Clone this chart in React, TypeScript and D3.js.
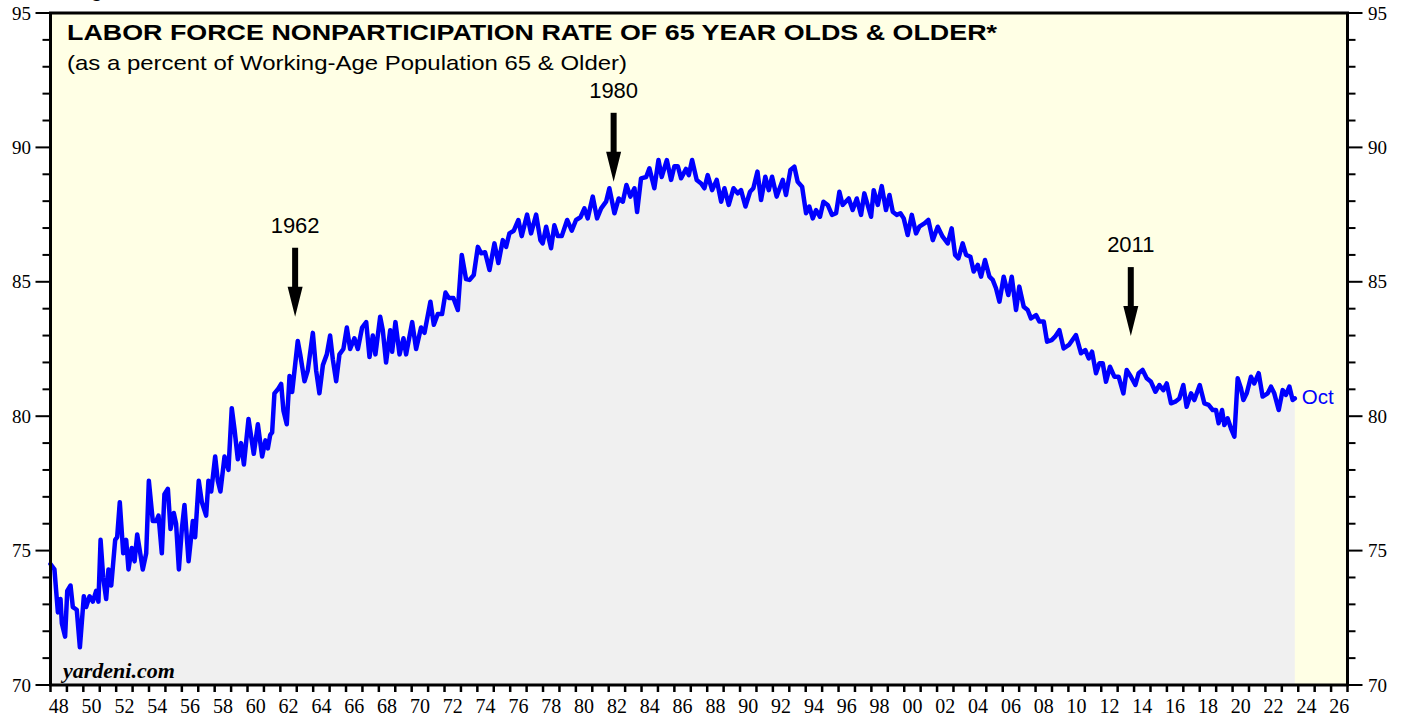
import React, { useEffect } from "react";
import * as d3 from "d3";

// readings: [decimal year, percent]
const rate1940s: [number, number][] = [
  [1948.0, 74.5], [1948.24, 74.3], [1948.45, 72.7], [1948.61, 73.2], [1948.69, 72.3], [1948.89, 71.8],
  [1949.02, 73.5], [1949.22, 73.7], [1949.36, 72.9], [1949.6, 72.8], [1949.79, 71.4],
];
const rate1950s: [number, number][] = [
  [1950.03, 73.3], [1950.17, 72.9], [1950.38, 73.3], [1950.58, 73.1], [1950.78, 73.5], [1950.92, 73.1],
  [1951.05, 75.4], [1951.21, 74.0], [1951.39, 73.2], [1951.53, 74.3], [1951.7, 73.7], [1951.94, 75.4],
  [1952.06, 75.5], [1952.22, 76.8], [1952.43, 74.9], [1952.61, 75.4], [1952.75, 74.3], [1952.95, 75.1],
  [1953.12, 74.6], [1953.28, 75.6], [1953.44, 75.0], [1953.62, 74.3], [1953.83, 74.9], [1953.99, 77.6],
  [1954.23, 76.1], [1954.44, 76.1], [1954.58, 76.3], [1954.78, 74.9], [1954.94, 77.1],
  [1955.15, 77.3], [1955.31, 75.8], [1955.51, 76.4], [1955.65, 76.0], [1955.82, 74.3],
  [1956.0, 75.8], [1956.16, 76.7], [1956.41, 74.6], [1956.67, 76.1], [1956.81, 75.5],
  [1957.03, 77.6], [1957.22, 76.8], [1957.48, 76.3], [1957.62, 77.6], [1957.79, 77.2],
  [1958.03, 78.5], [1958.19, 77.6], [1958.35, 77.2], [1958.6, 78.5], [1958.84, 78.0],
  [1959.04, 80.3], [1959.21, 79.5], [1959.41, 78.4], [1959.61, 79.0], [1959.78, 78.2],
];
const rate1960s: [number, number][] = [
  [1960.06, 79.9], [1960.38, 78.6], [1960.63, 79.7], [1960.89, 78.5],
  [1961.09, 79.1], [1961.24, 78.8], [1961.38, 79.3], [1961.5, 79.4], [1961.64, 80.85], [1961.85, 81.0],
  [1962.05, 81.2], [1962.19, 80.2], [1962.39, 79.7], [1962.56, 81.5], [1962.72, 80.9],
  [1963.06, 82.8], [1963.21, 82.3], [1963.47, 81.3], [1963.67, 81.7], [1963.98, 83.1],
  [1964.18, 81.7], [1964.38, 80.85], [1964.59, 81.9], [1964.83, 82.3],
  [1965.03, 83.0], [1965.2, 82.1], [1965.4, 81.3], [1965.6, 82.3], [1965.84, 82.5],
  [1966.05, 83.3], [1966.25, 82.5], [1966.51, 82.9], [1966.72, 82.5], [1966.98, 83.3],
  [1967.23, 83.5], [1967.43, 82.2], [1967.63, 83.0], [1967.79, 82.3],
  [1968.08, 83.7], [1968.24, 83.2], [1968.44, 82.0], [1968.69, 83.2], [1968.81, 82.4],
  [1969.01, 83.5], [1969.26, 82.3], [1969.5, 82.9], [1969.66, 82.3],
];
const rate1970s: [number, number][] = [
  [1970.03, 83.5], [1970.27, 82.5], [1970.57, 83.3], [1970.78, 83.1],
  [1971.14, 84.26], [1971.35, 83.4], [1971.59, 83.8], [1971.85, 83.8],
  [1972.06, 84.6], [1972.26, 84.4], [1972.54, 84.4], [1972.81, 83.95],
  [1973.05, 86.0], [1973.31, 85.1], [1973.52, 85.07], [1973.78, 85.25],
  [1974.03, 86.3], [1974.23, 86.06], [1974.47, 86.1], [1974.74, 85.44],
  [1975.04, 86.43], [1975.28, 85.7], [1975.55, 86.55], [1975.75, 86.3], [1975.95, 86.8],
  [1976.22, 86.9], [1976.5, 87.3], [1976.7, 86.7],
  [1977.03, 87.5], [1977.27, 86.8], [1977.58, 87.5], [1977.84, 86.55], [1977.98, 86.43],
  [1978.19, 87.05], [1978.49, 86.25], [1978.69, 87.1], [1978.9, 86.7],
  [1979.14, 86.7], [1979.47, 87.3], [1979.75, 86.9],
];
const rate1980s: [number, number][] = [
  [1980.01, 87.3], [1980.28, 87.4], [1980.52, 87.73], [1980.72, 87.36],
  [1981.03, 88.17], [1981.29, 87.36], [1981.54, 87.73], [1981.84, 87.98],
  [1982.04, 88.48], [1982.35, 87.55], [1982.61, 88.1], [1982.86, 87.98],
  [1983.08, 88.6], [1983.32, 88.17], [1983.57, 88.48], [1983.73, 87.6], [1983.97, 88.85],
  [1984.28, 88.9], [1984.48, 89.22], [1984.78, 88.48],
  [1985.03, 89.53], [1985.23, 88.9], [1985.54, 89.53], [1985.8, 88.79],
  [1986.0, 89.3], [1986.21, 89.3], [1986.41, 88.85], [1986.71, 89.2], [1986.88, 88.97],
  [1987.08, 89.53], [1987.36, 88.79], [1987.63, 88.66], [1987.83, 88.48],
  [1988.03, 88.97], [1988.3, 88.41], [1988.58, 88.79], [1988.85, 87.98],
  [1989.05, 88.48], [1989.31, 87.86], [1989.6, 88.48], [1989.86, 88.29],
];
const rate1990s: [number, number][] = [
  [1990.06, 88.41], [1990.33, 87.8], [1990.61, 88.35], [1990.81, 88.48],
  [1991.06, 89.1], [1991.28, 88.04], [1991.54, 88.91], [1991.75, 88.41], [1991.95, 88.91],
  [1992.23, 88.17], [1992.6, 88.79], [1992.8, 88.23],
  [1993.07, 89.16], [1993.31, 89.28], [1993.51, 88.72], [1993.78, 88.54],
  [1994.02, 87.55], [1994.22, 87.8], [1994.43, 87.36], [1994.63, 87.67], [1994.87, 87.42],
  [1995.08, 87.98], [1995.34, 87.86], [1995.6, 87.49], [1995.85, 87.55],
  [1996.05, 88.35], [1996.25, 87.86], [1996.62, 88.1], [1996.86, 87.67],
  [1997.11, 88.1], [1997.37, 87.49], [1997.57, 88.29], [1997.98, 87.42],
  [1998.14, 88.41], [1998.39, 87.86], [1998.63, 88.56], [1998.89, 87.67],
  [1999.1, 88.23], [1999.3, 87.61], [1999.54, 87.49], [1999.77, 87.55], [1999.97, 87.36],
];
const rate2000s: [number, number][] = [
  [2000.21, 86.74], [2000.46, 87.49], [2000.72, 86.8], [2000.92, 87.05],
  [2001.23, 87.17], [2001.47, 87.3], [2001.74, 86.55],
  [2002.04, 87.05], [2002.34, 86.68], [2002.65, 86.43], [2002.89, 86.99],
  [2003.1, 86.0], [2003.3, 85.87], [2003.56, 86.43], [2003.77, 86.0],
  [2004.03, 85.93], [2004.23, 85.38], [2004.48, 85.63], [2004.68, 85.19], [2004.92, 85.81],
  [2005.19, 85.19], [2005.39, 85.07], [2005.59, 84.76], [2005.8, 84.26],
  [2006.06, 85.19], [2006.34, 84.51], [2006.55, 85.19], [2006.81, 83.95],
  [2007.01, 84.82], [2007.28, 84.07], [2007.52, 83.95], [2007.72, 83.64],
  [2008.03, 83.76], [2008.23, 83.52], [2008.5, 83.52], [2008.7, 82.77], [2008.98, 82.83],
  [2009.19, 82.96], [2009.45, 83.2], [2009.71, 82.52],
];
const rate2010s: [number, number][] = [
  [2010.03, 82.65], [2010.46, 83.02], [2010.77, 82.34],
  [2011.03, 82.46], [2011.24, 82.15], [2011.44, 82.4], [2011.68, 81.6], [2011.89, 81.97],
  [2012.09, 81.97], [2012.29, 81.28], [2012.53, 81.84], [2012.8, 81.47],
  [2013.06, 81.47], [2013.35, 80.85], [2013.55, 81.72], [2013.81, 81.47],
  [2014.08, 81.16], [2014.28, 81.6], [2014.52, 81.72], [2014.77, 81.41],
  [2015.03, 81.28], [2015.3, 80.91], [2015.54, 81.16], [2015.78, 80.97], [2015.99, 81.22],
  [2016.25, 80.48], [2016.51, 80.54], [2016.76, 80.66],
  [2017.0, 81.16], [2017.2, 80.35], [2017.47, 80.85], [2017.67, 80.6],
  [2018.0, 81.16], [2018.28, 80.48], [2018.54, 80.42], [2018.79, 80.23], [2018.99, 80.23],
  [2019.15, 79.74], [2019.36, 80.23], [2019.5, 79.67], [2019.7, 79.92], [2019.9, 79.55],
];
const rate2020s: [number, number][] = [
  [2020.11, 79.24], [2020.31, 81.41], [2020.51, 81.04], [2020.66, 80.6], [2020.86, 80.85],
  [2021.12, 81.47], [2021.32, 81.22], [2021.59, 81.6], [2021.83, 80.73],
  [2022.14, 80.85], [2022.34, 81.1], [2022.54, 80.85], [2022.81, 80.23],
  [2023.05, 80.97], [2023.25, 80.79], [2023.46, 81.1], [2023.66, 80.6], [2023.79, 80.66],
];

const arrowLabels = ["1962", "1980", "2011"];
const arrowYears = [1962.9, 1982.3, 2013.8];
const arrowTips = [83.7, 88.72, 82.98];

const yMajor = [70, 75, 80, 85, 90, 95];

const title = "LABOR FORCE NONPARTICIPATION RATE OF 65 YEAR OLDS & OLDER*";
const subtitle = "(as a percent of Working-Age Population 65 & Older)";

const W = 1407;
const H = 717;
const sans = "'Liberation Sans', Arial, Helvetica, sans-serif";
const serif = "'Liberation Serif', 'Times New Roman', serif";

export default function App() {
  useEffect(() => {
    document.body.style.margin = "0";
  }, []);

  const data = [
    ...rate1940s, ...rate1950s, ...rate1960s, ...rate1970s,
    ...rate1980s, ...rate1990s, ...rate2000s, ...rate2010s, ...rate2020s,
  ];

  const x = d3.scaleLinear().domain([1948, 2027]).range([50.5, 1347.5]);
  const y = d3.scaleLinear().domain([70, 95]).range([685, 13]);

  const line = d3.line<[number, number]>().x((d) => x(d[0])).y((d) => y(d[1]));
  const area = d3
    .area<[number, number]>()
    .x((d) => x(d[0]))
    .y0(y(70))
    .y1((d) => y(d[1]));

  const yMinor = d3.range(70, 96);
  const yearTicks = d3.range(1948, 2028);
  const yearLabels = d3.range(1948, 2027, 2);
  const last = data[data.length - 1];

  const [x0, x1] = x.range();
  const [yb, yt] = y.range();

  return (
    <svg width={W} height={H} style={{ display: "block", background: "#fff" }}>
      {/* plot background */}
      <rect x={x0} y={yt} width={x1 - x0} height={yb - yt} fill="#ffffe5" />
      <path d={area(data) || ""} fill="#f0f0f0" />

      {/* heading cut off above the frame, as in the original */}
      <text x={73} y={-3} fontFamily={sans} fontWeight="bold" fontSize={20}>
        Figure 1.
      </text>

      {/* titles */}
      <text x={67} y={40} fontFamily={sans} fontWeight="bold" fontSize={22.5} textLength={930} lengthAdjust="spacingAndGlyphs">
        {title}
      </text>
      <text x={67} y={70} fontFamily={sans} fontSize={21} textLength={560} lengthAdjust="spacingAndGlyphs">
        {subtitle}
      </text>

      {/* series */}
      <path d={line(data) || ""} fill="none" stroke="#0000ff" strokeWidth={4.5} strokeLinejoin="round" strokeLinecap="round" />
      <text x={x(last[0]) + 7} y={y(last[1]) + 6} fontFamily={sans} fontSize={20.5} fill="#0000ff">
        Oct
      </text>

      {/* arrows */}
      {arrowLabels.map((lab, i) => {
        const ax = x(arrowYears[i]);
        const tip = y(arrowTips[i]);
        return (
          <g key={lab}>
            <text x={ax} y={tip - 84} textAnchor="middle" fontFamily={sans} fontSize={22}>
              {lab}
            </text>
            <rect x={ax - 3} y={tip - 69} width={6} height={41} fill="#000" />
            <path d={`M${ax - 7.5},${tip - 30}L${ax + 7.5},${tip - 30}L${ax},${tip}Z`} fill="#000" />
          </g>
        );
      })}

      <text x={63} y={678} fontFamily={serif} fontWeight="bold" fontStyle="italic" fontSize={22}>
        yardeni.com
      </text>

      {/* left & right axes */}
      {yMinor.map((v) => {
        const major = yMajor.includes(v);
        return (
          <g key={v}>
            <line x1={x0 - (major ? 15 : 8)} x2={x0} y1={y(v)} y2={y(v)} stroke="#000" strokeWidth={2} />
            <line x1={x1} x2={x1 + (major ? 15 : 8)} y1={y(v)} y2={y(v)} stroke="#000" strokeWidth={2} />
          </g>
        );
      })}
      {yMajor.map((v) => (
        <g key={"l" + v} fontFamily={serif} fontSize={19}>
          <text x={31} y={y(v)} dy="0.35em" textAnchor="end">{v}</text>
          <text x={1368} y={y(v)} dy="0.35em">{v}</text>
        </g>
      ))}

      {/* bottom axis */}
      {yearTicks.map((yr) => (
        <line key={yr} x1={x(yr)} x2={x(yr)} y1={yb} y2={yb + 7} stroke="#000" strokeWidth={2.5} />
      ))}
      {yearLabels.map((yr) => (
        <text key={"t" + yr} x={x(yr + 0.5)} y={713} textAnchor="middle" fontFamily={serif} fontSize={20}>
          {String(yr % 100).padStart(2, "0")}
        </text>
      ))}

      {/* frame */}
      <rect x={x0} y={yt} width={x1 - x0} height={yb - yt} fill="none" stroke="#000" strokeWidth={3} />
    </svg>
  );
}
